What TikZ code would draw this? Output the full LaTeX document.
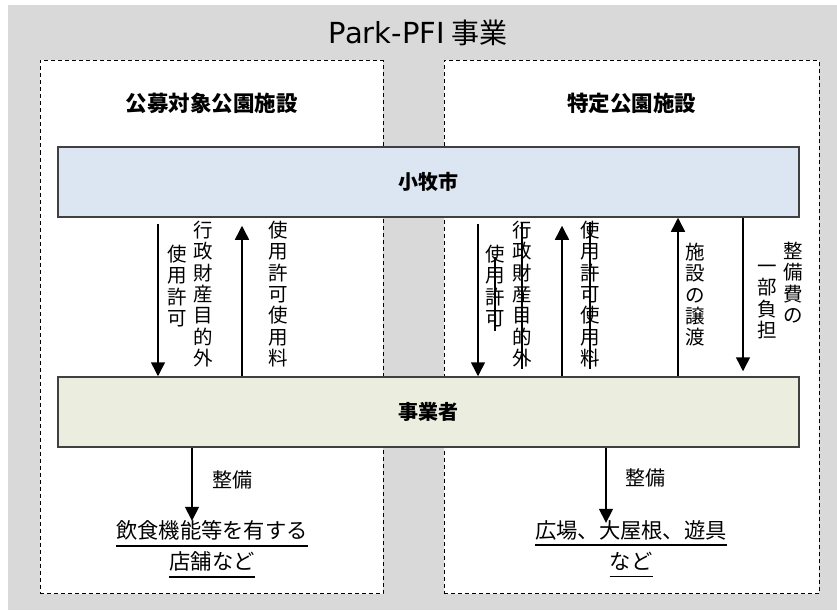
\documentclass[tikz,border=0pt]{standalone}
\usepackage{fontspec}
\setmainfont{Noto Sans CJK JP}
\newfontfamily\latinfont{DejaVu Sans}
\usetikzlibrary{arrows.meta}
\definecolor{bggray}{RGB}{217,217,217}
\definecolor{cityblue}{RGB}{220,230,242}
\definecolor{bizgreen}{RGB}{235,238,222}
\definecolor{boxedge}{RGB}{64,64,64}
\begin{document}
\begin{tikzpicture}[x=1pt,y=-1pt,
  dbox/.style={draw=black, fill=white, line width=1pt, dash pattern=on 4pt off 3pt, inner sep=0pt},
  mainbox/.style={draw=boxedge, line width=1.5pt, minimum width=741pt, minimum height=70pt, inner sep=0pt, font=\fontsize{20}{22}\selectfont\bfseries},
  head/.style={font=\fontsize{21.5}{24}\selectfont\bfseries, inner sep=0pt},
  vtext/.style={align=center, inner sep=0pt, anchor=north, font=\fontsize{19.5}{21.3}\selectfont},
  lbl/.style={inner sep=0pt, font=\fontsize{21.3}{24}\selectfont},
  arr/.style={line width=1.5pt, -{Triangle[width=14pt,length=14pt]}},
  strike/.style={line width=1.4pt}
]
\useasboundingbox (0,0) rectangle (837,610);
\fill[bggray] (8,5) rectangle (837,610);

\node[dbox, minimum width=343pt, minimum height=533pt] (L) at (211.5,327) {};
\node[dbox, minimum width=375pt, minimum height=533pt] (R) at (631.5,327) {};

\node[inner sep=0pt, font=\fontsize{28}{30}\selectfont] (title) at (418,33) {{\latinfont\fontsize{29}{30}\selectfont Park-PFI} 事業};
\node[head] (hl) at (211.5,103) {公募対象公園施設};
\node[head] (hr) at (631.5,103) {特定公園施設};

\node[mainbox, fill=cityblue] (city) at (428.5,182) {小牧市};
\node[mainbox, fill=bizgreen] (biz) at (428.5,412) {事業者};

% left arrows
\coordinate (xa) at (158,0);
\coordinate (xb) at (242,0);
\draw[arr, shorten <=6pt] (city.south -| xa) -- (biz.north -| xa);
\draw[arr, shorten >=8pt] (biz.north -| xb) -- (city.south -| xb);
\node[vtext] (lv1) at (177,245) {使\\用\\許\\可};
\node[vtext] (lv2) at (203,221) {行\\政\\財\\産\\目\\的\\外};
\node[vtext] (lv3) at (278,221) {使\\用\\許\\可\\使\\用\\料};

% right arrows
\coordinate (xc) at (478,0);
\coordinate (xd) at (562,0);
\coordinate (xe) at (678,0);
\coordinate (xf) at (743,0);
\draw[arr, shorten <=6pt] (city.south -| xc) -- (biz.north -| xc);
\draw[arr, shorten >=8pt] (biz.north -| xd) -- (city.south -| xd);
\draw[arr] (biz.north -| xe) -- (city.south -| xe);
\draw[arr, shorten >=5pt] (city.south -| xf) -- (biz.north -| xf);
\node[vtext] (rv1) at (495,245) {使\\用\\許\\可};
\node[vtext] (rv2) at (522,221) {行\\政\\財\\産\\目\\的\\外};
\node[vtext] (rv3) at (590,221) {使\\用\\許\\可\\使\\用\\料};
\node[vtext] (rv4) at (695,243) {施\\設\\の\\譲\\渡};
\node[vtext] (rv5) at (793,242) {整\\備\\費\\の};
\node[vtext] (rv6) at (767,265) {一\\部\\負\\担};
\draw[strike] ([yshift=-12pt]rv1.north) -- ([yshift=-4pt]rv1.south);
\draw[strike] ([yshift=-1pt]rv2.north) -- ([yshift=-2pt]rv2.south);
\draw[strike] ([yshift=-1pt]rv3.north) -- ([yshift=-2pt]rv3.south);

% bottom
\node[lbl, anchor=base] (f1) at (212,538) {飲食機能等を有する};
\node[lbl, anchor=base] (f2) at (212,569) {店舗など};
\draw[line width=1.2pt] ([yshift=-6pt]f1.south west) -- ([yshift=-6pt]f1.south east);
\draw[line width=1.2pt] ([yshift=-6pt]f2.south west) -- ([yshift=-6pt]f2.south east);
\coordinate (xg) at (192,0);
\draw[arr] (biz.south -| xg) -- ([yshift=-1pt]f1.north -| xg);
\node[lbl, font=\fontsize{20}{22}\selectfont] (s1) at (232,480) {整備};

\node[lbl, anchor=base] (g1) at (631,538) {広場、大屋根、遊具};
\node[lbl, anchor=base] (g2) at (631,569) {など};
\draw[line width=1.2pt] ([yshift=-5pt]g1.south west) -- ([yshift=-5pt]g1.south east);
\draw[line width=1.2pt] ([yshift=-6pt]g2.south west) -- ([yshift=-6pt]g2.south east);
\coordinate (xh) at (606,0);
\draw[arr] (biz.south -| xh) -- ([yshift=-3pt]g1.north -| xh);
\node[lbl, font=\fontsize{20}{22}\selectfont] (s2) at (645,478) {整備};
\end{tikzpicture}
\end{document}
